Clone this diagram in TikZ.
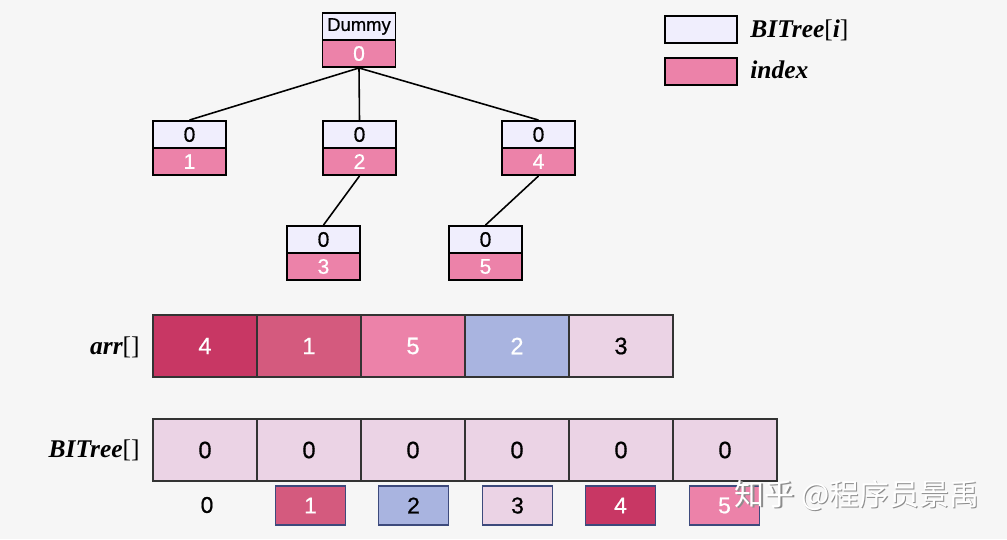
\documentclass[tikz,border=0pt]{standalone}
\usepackage{fontspec}
\setmainfont{Liberation Sans}[FakeBold=0.6]
\newfontfamily\cjkfont{Noto Sans CJK SC}
\newfontfamily\mfont{Liberation Serif}
\definecolor{bgc}{HTML}{F6F6F6}
\definecolor{lav}{HTML}{F0EEFD}
\definecolor{pinkc}{HTML}{EC82A9}
\definecolor{darkc}{HTML}{C83764}
\definecolor{midc}{HTML}{D45A7E}
\definecolor{bluec}{HTML}{A9B4E0}
\definecolor{lightc}{HTML}{EBD3E5}
\definecolor{idxborder}{HTML}{3D4A7C}
\newcommand{\bi}[1]{{\mfont\bfseries\itshape #1}}
\newcommand{\rb}[1]{{\mfont #1}}
\begin{document}
\begin{tikzpicture}[x=0.02cm,y=-0.02cm,
  top/.style={draw=black,line width=1.1pt,fill=lav,minimum width=73*0.02cm,minimum height=27*0.02cm,inner sep=0pt,font=\fontsize{12}{14}\selectfont},
  bot/.style={draw=black,line width=1.1pt,fill=pinkc,minimum width=73*0.02cm,minimum height=27*0.02cm,inner sep=0pt,text=white,font=\fontsize{12}{14}\selectfont},
  cell/.style={draw=black!80,line width=0.6pt,minimum width=104*0.02cm,minimum height=62*0.02cm,inner sep=0pt,font=\fontsize{13.5}{16}\selectfont},
  idx/.style={draw=idxborder,line width=0.6pt,minimum width=70*0.02cm,minimum height=39*0.02cm,inner sep=0pt,font=\fontsize{13}{15}\selectfont},
  lbl/.style={anchor=east,inner sep=0pt,font=\fontsize{14.5}{17}\selectfont},
  edge/.style={draw=black,line width=0.9pt}]
\fill[bgc] (0,0) rectangle (1007,539);
\useasboundingbox (0,0) rectangle (1007,539);

% tree
\node[top,font=\fontsize{10.5}{12}\selectfont] (dT) at (359,26.5) {Dummy};
\node[bot] (dB) at (359,53.5) {0};
\node[top] (aT) at (189.5,134.5) {0};
\node[bot] (aB) at (189.5,161.5) {1};
\node[top] (bT) at (359.5,134.5) {0};
\node[bot] (bB) at (359.5,161.5) {2};
\node[top] (cT) at (538.5,134.5) {0};
\node[bot] (cB) at (538.5,161.5) {4};
\node[top] (eT) at (323.5,239.5) {0};
\node[bot] (eB) at (323.5,266.5) {3};
\node[top] (fT) at (485.5,239.5) {0};
\node[bot] (fB) at (485.5,266.5) {5};

\draw[edge] (dB.south) -- (aT.north);
\draw[edge] (dB.south) -- (bT.north);
\draw[edge] (dB.south) -- (cT.north);
\draw[edge] (bB.south) -- (eT.north);
\draw[edge] (cB.south) -- (fT.north);

% legend
\node[top,minimum width=72*0.02cm] (l1) at (701,29.5) {};
\node[bot,minimum width=72*0.02cm] (l2) at (701,71.5) {};
\node[anchor=west,inner sep=0pt,font=\fontsize{14.5}{17}\selectfont] (l1t) at (750,30) {\bi{BITree}\rb{[}\bi{i}\rb{]}};
\node[anchor=west,inner sep=0pt,font=\fontsize{14.5}{17}\selectfont] (l2t) at (750,70) {\bi{index}};

% arr row
\node[cell,fill=darkc,text=white] (r1) at (205,346) {4};
\node[cell,fill=midc,text=white] (r2) at (309,346) {1};
\node[cell,fill=pinkc,text=white] (r3) at (413,346) {5};
\node[cell,fill=bluec,text=white] (r4) at (517,346) {2};
\node[cell,fill=lightc] (r5) at (621,346) {3};
\node[lbl] (arrl) at (140,347) {\bi{arr}\rb{[]}};

% BITree row
\foreach \i/\x in {1/205,2/309,3/413,4/517,5/621,6/725}
  \node[cell,fill=lightc] (t\i) at (\x,450) {0};
\node[lbl] (bitl) at (140,450) {\bi{BITree}\rb{[]}};

% index row
\node[inner sep=0pt,font=\fontsize{13}{15}\selectfont] (i0) at (207,505) {0};
\node[idx,fill=midc,text=white] (i1) at (310.5,505.5) {1};
\node[idx,fill=bluec] (i2) at (413.5,505.5) {2};
\node[idx,fill=lightc] (i3) at (517.5,505.5) {3};
\node[idx,fill=darkc,text=white] (i4) at (620.5,505.5) {4};
\node[idx,fill=pinkc,text=white] (i5) at (724.5,505.5) {5};

% watermark
\node[anchor=west,inner sep=0pt,text=black!45,font=\cjkfont\fontsize{17}{20}\selectfont] (wm0) at (735.8,496.8) {知乎 @程序员景禹};
\node[anchor=west,inner sep=0pt,text=white,font=\cjkfont\fontsize{17}{20}\selectfont] (wm) at (734.5,495.5) {知乎 @程序员景禹};
\end{tikzpicture}
\end{document}
